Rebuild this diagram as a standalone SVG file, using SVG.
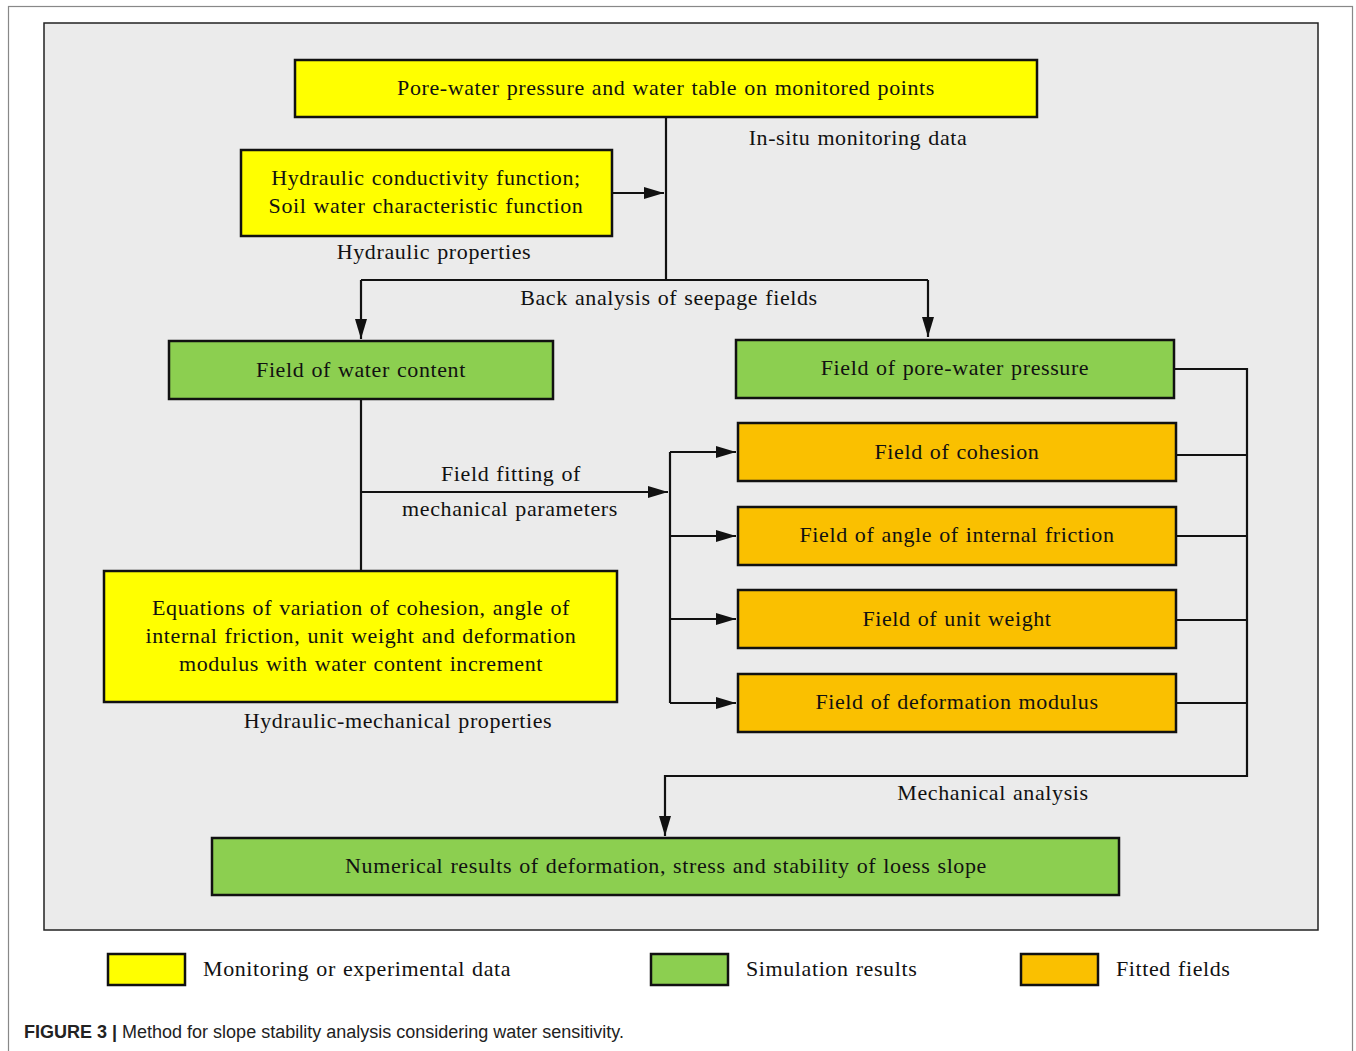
<svg xmlns="http://www.w3.org/2000/svg" width="1356" height="1051" viewBox="0 0 1356 1051">
<style>
.t{font-family:"Liberation Serif","Times New Roman",serif;font-size:22px;letter-spacing:0.6px;word-spacing:1px;fill:#111;text-anchor:middle}
.b{stroke:#111;stroke-width:2.5}
.y{fill:#ffff00}
.g{fill:#8ccf50}
.o{fill:#fac000}
.c{fill:none;stroke:#111;stroke-width:2.2}
.lt{font-family:"Liberation Serif","Times New Roman",serif;font-size:22px;letter-spacing:0.6px;word-spacing:1px;fill:#111}
</style>
<defs>
<marker id="ah" viewBox="0 0 20 12" refX="20" refY="6" markerWidth="20" markerHeight="12" markerUnits="userSpaceOnUse" orient="auto">
<path d="M0,0 L20,6 L0,12 z" fill="#111"/>
</marker>
</defs>
<rect x="0" y="0" width="1356" height="1051" fill="#fff"/>
<rect x="8.5" y="6.5" width="1344" height="1060" fill="none" stroke="#888" stroke-width="1.2"/>
<rect x="44" y="23" width="1274" height="907" fill="#ebebeb" stroke="#222" stroke-width="1.5"/>

<g id="connectors">
<path class="c" d="M666,117 V280"/>
<path class="c" d="M612,193 H664" marker-end="url(#ah)"/>
<path class="c" d="M361,280 H928"/>
<path class="c" d="M361,280 V339" marker-end="url(#ah)"/>
<path class="c" d="M928,280 V337" marker-end="url(#ah)"/>
<path class="c" d="M361,399 V571"/>
<path class="c" d="M361,492 H668" marker-end="url(#ah)"/>
<path class="c" d="M670,452 V703"/>
<path class="c" d="M670,452 H736" marker-end="url(#ah)"/>
<path class="c" d="M670,536 H736" marker-end="url(#ah)"/>
<path class="c" d="M670,619 H736" marker-end="url(#ah)"/>
<path class="c" d="M670,703 H736" marker-end="url(#ah)"/>
<path class="c" d="M1174,369 H1247 V776 H665 V836" marker-end="url(#ah)"/>
<path class="c" d="M1176,455 H1247"/>
<path class="c" d="M1176,536 H1247"/>
<path class="c" d="M1176,620 H1247"/>
<path class="c" d="M1176,703 H1247"/>
</g>

<g id="n-top"><rect class="b y" x="295" y="60" width="742" height="57"/><text class="t" x="666" y="95">Pore-water pressure and water table on monitored points</text></g>
<g id="n-hyd"><rect class="b y" x="241" y="150" width="371" height="86"/><text class="t" x="426" y="185">Hydraulic conductivity function;</text><text class="t" x="426" y="213">Soil water characteristic function</text></g>
<g id="n-wc"><rect class="b g" x="169" y="341" width="384" height="58"/><text class="t" x="361" y="377">Field of water content</text></g>
<g id="n-pwp"><rect class="b g" x="736" y="340" width="438" height="58"/><text class="t" x="955" y="375">Field of pore-water pressure</text></g>
<g id="n-coh"><rect class="b o" x="738" y="423" width="438" height="58"/><text class="t" x="957" y="459">Field of cohesion</text></g>
<g id="n-ang"><rect class="b o" x="738" y="507" width="438" height="58"/><text class="t" x="957" y="542">Field of angle of internal friction</text></g>
<g id="n-uw"><rect class="b o" x="738" y="590" width="438" height="58"/><text class="t" x="957" y="626">Field of unit weight</text></g>
<g id="n-dm"><rect class="b o" x="738" y="674" width="438" height="58"/><text class="t" x="957" y="709">Field of deformation modulus</text></g>
<g id="n-eq"><rect class="b y" x="104" y="571" width="513" height="131"/><text class="t" x="361" y="615">Equations of variation of cohesion, angle of</text><text class="t" x="361" y="643">internal friction, unit weight  and deformation</text><text class="t" x="361" y="671">modulus with water content increment</text></g>
<g id="n-num"><rect class="b g" x="212" y="838" width="907" height="57"/><text class="t" x="666" y="873">Numerical results of deformation, stress and stability of loess slope</text></g>

<g id="labels">
<text class="t" x="858" y="145">In-situ monitoring data</text>
<text class="t" x="434" y="259">Hydraulic properties</text>
<text class="t" x="669" y="305">Back analysis of seepage fields</text>
<text class="t" x="511" y="481">Field fitting of</text>
<text class="t" x="510" y="516">mechanical parameters</text>
<text class="t" x="398" y="728">Hydraulic-mechanical properties</text>
<text class="t" x="993" y="800">Mechanical analysis</text>
</g>

<g id="legend">
<rect class="b y" x="108" y="954" width="77" height="31"/><text class="lt" x="203" y="976">Monitoring or experimental data</text>
<rect class="b g" x="651" y="954" width="77" height="31"/><text class="lt" x="746" y="976">Simulation results</text>
<rect class="b o" x="1021" y="954" width="77" height="31"/><text class="lt" x="1116" y="976">Fitted fields</text>
</g>
<text x="24" y="1038" font-family="'Liberation Sans',Arial,sans-serif" font-size="18" fill="#222"><tspan font-weight="bold">FIGURE 3 |</tspan> Method for slope stability analysis considering water sensitivity.</text>
</svg>
